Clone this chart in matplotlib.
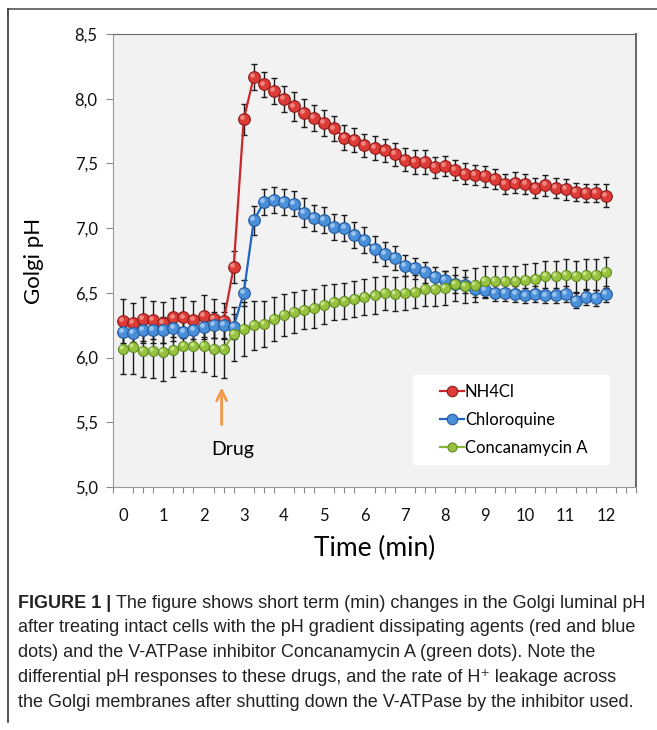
import matplotlib
matplotlib.use("Agg")
import matplotlib.pyplot as plt
from matplotlib.lines import Line2D
from matplotlib.patches import Rectangle
from matplotlib.transforms import offset_copy
import numpy as np

# sampling grid: one reading every 15 s, 0..12 min
time_min = np.arange(0, 12.01, 0.25)

nh4cl = [6.28, 6.27, 6.30, 6.29, 6.27, 6.31, 6.31, 6.29, 6.32, 6.30, 6.28,
         6.70, 7.84, 8.17, 8.11, 8.06, 8.00, 7.94, 7.89, 7.85, 7.81,
         7.77, 7.70, 7.68, 7.64, 7.62, 7.60, 7.57, 7.53, 7.51, 7.51,
         7.47, 7.48, 7.45, 7.42, 7.41, 7.40, 7.38, 7.34, 7.35, 7.34,
         7.31, 7.33, 7.31, 7.30, 7.28, 7.27, 7.27, 7.25]
nh4cl_err = [0.17, 0.15, 0.17, 0.15, 0.16, 0.15, 0.16, 0.15, 0.16, 0.15, 0.14,
             0.12, 0.12, 0.10, 0.10, 0.10, 0.10, 0.11, 0.11, 0.10, 0.10,
             0.10, 0.10, 0.09, 0.09, 0.09, 0.09, 0.09, 0.09, 0.09, 0.09,
             0.08, 0.08, 0.08, 0.08, 0.08, 0.08, 0.08, 0.08, 0.08, 0.08,
             0.08, 0.08, 0.08, 0.08, 0.07, 0.07, 0.07, 0.09]

chloroquine = [6.20, 6.19, 6.21, 6.21, 6.21, 6.23, 6.20, 6.21, 6.24, 6.25, 6.25,
               6.24, 6.50, 7.06, 7.20, 7.22, 7.20, 7.19, 7.12, 7.08, 7.06,
               7.01, 7.00, 6.95, 6.91, 6.84, 6.80, 6.77, 6.71, 6.69, 6.66,
               6.62, 6.60, 6.57, 6.56, 6.53, 6.52, 6.50, 6.50, 6.49, 6.48,
               6.49, 6.48, 6.48, 6.49, 6.44, 6.47, 6.46, 6.49]
chloroquine_err = [0.10, 0.10, 0.10, 0.10, 0.10, 0.10, 0.10, 0.10, 0.10, 0.10, 0.10,
                   0.10, 0.10, 0.11, 0.10, 0.10, 0.10, 0.10, 0.11, 0.10, 0.10,
                   0.10, 0.10, 0.10, 0.10, 0.10, 0.09, 0.09, 0.08, 0.08, 0.08,
                   0.08, 0.07, 0.07, 0.06, 0.06, 0.06, 0.06, 0.06, 0.06, 0.06,
                   0.06, 0.06, 0.06, 0.06, 0.06, 0.06, 0.06, 0.06]

concanamycin = [6.07, 6.08, 6.05, 6.05, 6.04, 6.06, 6.09, 6.09, 6.09, 6.07, 6.07,
                6.18, 6.22, 6.25, 6.26, 6.30, 6.33, 6.35, 6.37, 6.38, 6.41,
                6.43, 6.44, 6.45, 6.47, 6.48, 6.50, 6.49, 6.50, 6.51, 6.53,
                6.53, 6.54, 6.57, 6.55, 6.56, 6.59, 6.59, 6.59, 6.59, 6.60,
                6.61, 6.63, 6.63, 6.64, 6.63, 6.64, 6.64, 6.66]
concanamycin_err = [0.20, 0.21, 0.20, 0.21, 0.22, 0.21, 0.19, 0.19, 0.20, 0.21, 0.23,
                    0.21, 0.21, 0.19, 0.18, 0.17, 0.16, 0.16, 0.15, 0.15, 0.15,
                    0.14, 0.14, 0.14, 0.14, 0.14, 0.13, 0.13, 0.13, 0.13, 0.13,
                    0.13, 0.13, 0.13, 0.13, 0.13, 0.12, 0.12, 0.12, 0.12, 0.12,
                    0.12, 0.12, 0.12, 0.12, 0.12, 0.12, 0.12, 0.12]

y_ticks = [5.0, 5.5, 6.0, 6.5, 7.0, 7.5, 8.0, 8.5]
x_ticks = list(range(13))

# name, values, errors, line colour, face, edge, highlight, marker size
series = [
    ("NH4Cl", nh4cl, nh4cl_err, "#c8282c", "#dc3b36", "#8e1b1b", "#f6a19a", 8.4),
    ("Chloroquine", chloroquine, chloroquine_err, "#1f66c1", "#4a8fd9", "#24589a", "#b6d6f6", 8.4),
    ("Concanamycin A", concanamycin, concanamycin_err, "#86b53a", "#97c23f", "#5f8a22", "#d6ef9e", 7.2),
]

ui_font = ["Lato", "DejaVu Sans"]

fig = plt.figure(figsize=(6.57, 7.30), dpi=100)
ax = fig.add_axes([113 / 657, 1 - 487 / 730, (636 - 113) / 657, (487 - 34) / 730])
ax.set_facecolor("#f2f2f2")

hl_trans = offset_copy(ax.transData, fig=fig, x=-1.3, y=1.4, units="points")
for name, vals, err, lc, fc, ec, hc, ms in series:
    ax.errorbar(time_min, vals, yerr=err, fmt="none", ecolor="#1a1a1a",
                elinewidth=1.0, capsize=2.3, capthick=1.0, zorder=2)
    ax.plot(time_min, vals, color=lc, lw=1.6, marker="o", ms=ms,
            mfc=fc, mec=ec, mew=0.8, label=name, zorder=3)
    # glossy highlight on each sphere
    ax.plot(time_min, vals, ls="none", marker="o", ms=ms * 0.4, mfc=hc,
            mec="none", alpha=0.75, transform=hl_trans, zorder=3)

ax.set_xlim(-0.25, 12.75)
ax.set_ylim(5.0, 8.5)
ax.set_yticks(y_ticks)
ax.set_yticklabels([f"{v:.1f}".replace(".", ",") for v in y_ticks])
ax.set_xticks(x_ticks)
ax.set_xticks(np.arange(-0.25, 12.8, 0.25), minor=True)
ax.tick_params(axis="x", which="major", length=0, pad=15)
ax.tick_params(axis="x", which="minor", length=4, color="#888888", width=0.8)
ax.tick_params(axis="y", length=5, color="#888888", width=0.8, pad=6)
for lab in ax.get_xticklabels() + ax.get_yticklabels():
    lab.set_family(ui_font)
    lab.set_fontsize(12)
    lab.set_color("#111111")

ax.spines["left"].set_color("#999999")
ax.spines["bottom"].set_color("#999999")
ax.spines["top"].set_color("#666666")
ax.spines["right"].set_color("#666666")
ax.spines["right"].set_linewidth(1.4)

ax.set_xlabel("Time (min)", family=ui_font, fontsize=19, labelpad=9)
ax.set_ylabel("Golgi pH", family=ui_font, fontsize=16, labelpad=22)

# drug addition marker
ax.annotate("", xy=(2.45, 5.79), xytext=(2.45, 5.46),
            arrowprops=dict(arrowstyle="->", color="#f39a4a", lw=2.0,
                            mutation_scale=18))
ax.text(2.72, 5.29, "Drug", family=ui_font, fontsize=14, ha="center", va="center")

# white legend panel, wider than the entries
ax.add_patch(Rectangle((0.574, 0.049), 0.376, 0.198, transform=ax.transAxes,
                       facecolor="white", edgecolor="none", zorder=4))
leg = ax.legend(loc="center left", bbox_to_anchor=(0.625, 0.148), frameon=False,
                prop={"family": ui_font, "size": 12}, handlelength=1.45,
                handletextpad=0.05, labelspacing=0.72, borderpad=0,
                borderaxespad=0, markerscale=0.9)
leg.set_zorder(5)

# outer frame of the figure panel
fig.add_artist(Line2D([8 / 657, 1.0], [1 - 9 / 730, 1 - 9 / 730], color="#555555", lw=1.2))
fig.add_artist(Line2D([8 / 657, 8 / 657], [1 - 9 / 730, 1 - 722 / 730], color="#333333", lw=1.2))

# caption
cap_font = ["Liberation Sans Narrow", "Liberation Sans", "DejaVu Sans"]
cap_size = 13
cap_lines = [
    "The figure shows short term (min) changes in the Golgi luminal pH",
    "after treating intact cells with the pH gradient dissipating agents (red and blue",
    "dots) and the V-ATPase inhibitor Concanamycin A (green dots). Note the",
    "differential pH responses to these drugs, and the rate of H\u207a leakage across",
    "the Golgi membranes after shutting down the V-ATPase by the inhibitor used.",
]
x0 = 18 / 657
bold = fig.text(x0, 1 - 603 / 730, "FIGURE 1 | ", family=cap_font, fontsize=cap_size,
                weight="bold", va="center", color="#222222")
renderer = fig.canvas.get_renderer()
bb = bold.get_window_extent(renderer)
fig.text(bb.x1 / fig.bbox.width, 1 - 603 / 730, cap_lines[0], family=cap_font,
         fontsize=cap_size, va="center", color="#222222")
for i, line in enumerate(cap_lines[1:], start=1):
    fig.text(x0, 1 - (603 + 24.8 * i) / 730, line, family=cap_font,
             fontsize=cap_size, va="center", color="#222222")

fig.savefig("out.png", dpi=100, facecolor="white")
